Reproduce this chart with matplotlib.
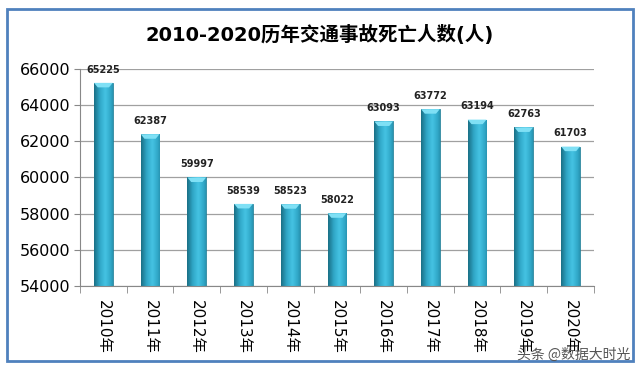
import numpy as np
import matplotlib.pyplot as plt
from matplotlib.patches import Rectangle, Polygon

plt.rcParams['font.family'] = ['DejaVu Sans', 'Noto Sans CJK SC']

years = ['2010年', '2011年', '2012年', '2013年', '2014年', '2015年',
         '2016年', '2017年', '2018年', '2019年', '2020年']
deaths = [65225, 62387, 59997, 58539, 58523, 58022, 63093, 63772, 63194, 62763, 61703]
yticks = [54000, 56000, 58000, 60000, 62000, 64000, 66000]

fig = plt.figure(figsize=(6.4, 3.72), dpi=100)
ax = fig.add_axes([0.125, 0.231, 0.803, 0.584])

ymin = 54000
x = np.arange(len(years))
w = 0.4
# horizontal shading across each bar: dark edges, light middle
grad = np.linspace(0, 1, 64)
shade = 1 - np.abs(grad - 0.6) / 0.6
cmap = plt.matplotlib.colors.LinearSegmentedColormap.from_list(
    'cyl', ['#1a6f85', '#2fa6c6', '#45c3e3'])
img = shade[np.newaxis, :]
bars = ax.bar(x, np.array(deaths) - ymin, w, bottom=ymin, color='none', zorder=2)
for b, v in zip(bars, deaths):
    x0 = b.get_x()
    im = ax.imshow(img, cmap=cmap, aspect='auto', extent=(x0, x0 + w, ymin, v),
                   zorder=2, interpolation='bicubic')
    im.set_clip_path(b)
    b.set_edgecolor('#1d7f98')
    b.set_linewidth(0.6)
    cap = Polygon([(x0, v), (x0 + w, v), (x0 + w * 0.8, v - 250), (x0 + w * 0.2, v - 250)],
                  closed=True, color='#7fe0f5', zorder=3, lw=0)
    ax.add_patch(cap)
    ax.text(x0 + w / 2, v + 450, str(v), ha='center', va='bottom',
            fontsize=7, fontweight='bold', color='#222222')

ax.set_xlim(-0.5, len(years) - 0.5)
ax.set_ylim(54000, 66000)
ax.set_yticks(yticks)
ax.set_yticklabels([str(t) for t in yticks], fontsize=11.5)
ax.yaxis.grid(True, color='#a0a0a0', lw=0.9, zorder=0)
ax.set_axisbelow(True)
ax.set_xticks(x)
ax.set_xticklabels(years, rotation=270, fontsize=11, va='top', ha='center',
                   family=['DejaVu Sans', 'Noto Sans CJK SC'])
ax.tick_params(axis='x', length=0, pad=10)
ax.set_xticks(np.arange(-0.5, len(years)), minor=True)
ax.tick_params(axis='x', which='minor', length=5, color='#888888', direction='out')
ax.tick_params(axis='y', length=4, color='#888888', pad=3)
for s in ['top', 'right']:
    ax.spines[s].set_visible(False)
ax.spines['left'].set_color('#888888')
ax.spines['bottom'].set_color('#888888')

fig.text(0.5, 0.905, '2010-2020历年交通事故死亡人数(人)', ha='center', va='center',
         fontsize=14, fontweight='bold', family=['DejaVu Sans', 'Noto Sans CJK SC'])
fig.text(0.985, 0.045, '头条 @数据大时光', ha='right', va='center', fontsize=10,
         color='#555555', family=['Noto Sans CJK SC'])

border = Rectangle((0.011, 0.03), 0.978, 0.945, transform=fig.transFigure,
                   fill=False, edgecolor='#4f81bd', lw=2)
fig.patches.append(border)

fig.savefig('out.png', dpi=100)
